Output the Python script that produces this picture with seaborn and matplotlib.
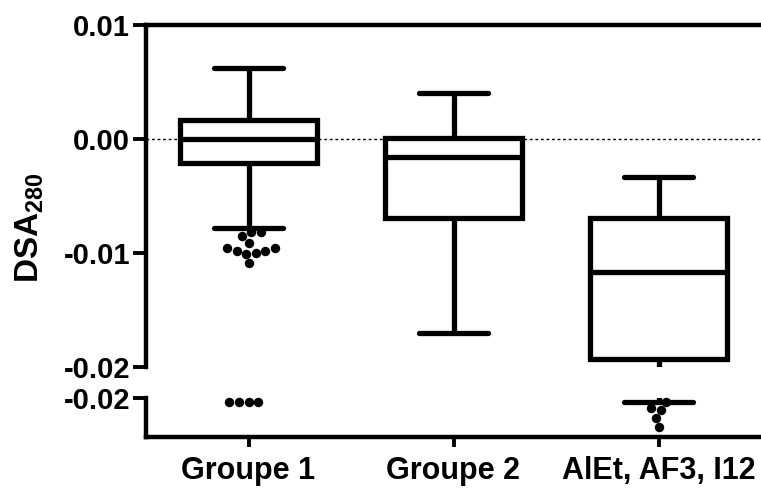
import pandas as pd
import matplotlib
matplotlib.use("Agg")
import matplotlib.pyplot as plt
import seaborn as sns

# Résumé des boîtes
groups = ["Groupe 1", "Groupe 2", "AlEt, AF3, I12"]
whisker_low = [-0.0078, -0.0170, -0.02435]
q1 = [-0.0021, -0.0069, -0.0193]
median = [0.0000, -0.0016, -0.0117]
q3 = [0.0017, 0.0001, -0.0069]
whisker_high = [0.0062, 0.0040, -0.0033]

# Valeurs extrêmes
outlier_group = ["Groupe 1"] * 15 + ["AlEt, AF3, I12"] * 5
outlier_values = [-0.0082, -0.0085, -0.0082, -0.0091, -0.0098, -0.0096,
                  -0.0101, -0.0098, -0.0096, -0.0100, -0.0109,
                  -0.02435, -0.02435, -0.02435, -0.02435,
                  -0.02435, -0.02488, -0.02505, -0.02575, -0.02654]

upper_ticks = [0.01, 0.00, -0.01, -0.02]
lower_ticks = [-0.024]
upper_range = (-0.02, 0.01)
lower_range = (-0.02742, -0.024)

sns.set_style("ticks", {"axes.edgecolor": "black", "xtick.color": "black",
                        "ytick.color": "black", "text.color": "black",
                        "axes.labelcolor": "black"})
plt.rcParams["font.family"] = ["Liberation Sans", "DejaVu Sans"]
plt.rcParams["font.weight"] = "bold"
plt.rcParams["axes.unicode_minus"] = False
plt.rcParams["mathtext.fontset"] = "custom"
plt.rcParams["mathtext.bf"] = "Liberation Sans:bold"
plt.rcParams["mathtext.rm"] = "Liberation Sans:bold"

box_df = pd.DataFrame({
    "group": [g for g in groups for _ in range(5)],
    "value": [v for vals in zip(whisker_low, q1, median, q3, whisker_high) for v in vals],
})
out_df = pd.DataFrame({"group": outlier_group, "value": outlier_values})

fig = plt.figure(figsize=(7.61, 4.9), dpi=100)
W, H = 761, 490
left = 146 / W
ax_top = fig.add_axes([left, 1 - 367 / H, 1.0 - left, (367 - 25) / H])
ax_bot = fig.add_axes([left, 1 - 437 / H, 1.0 - left, (437 - 398) / H])

lw = 3.8
for ax, yr in [(ax_top, upper_range), (ax_bot, lower_range)]:
    ax.axhline(0, color="black", lw=1, ls=(0, (2, 2)), zorder=0)
    sns.boxplot(data=box_df, x="group", y="value", order=groups, whis=(0, 100),
                width=0.67, color="white", linecolor="black", linewidth=lw,
                fliersize=0, ax=ax)
    sub = out_df[(out_df["value"] >= yr[0]) & (out_df["value"] <= yr[1])]
    sns.swarmplot(data=sub, x="group", y="value", order=groups, color="black",
                  size=6.8, ax=ax, clip_on=False, zorder=5)
    ax.set_ylim(yr)
    ax.set_xlim(-0.5, 2.5)
    ax.set_xlabel("")
    ax.set_ylabel("")
    ax.spines["right"].set_visible(False)
    for s in ax.spines.values():
        s.set_linewidth(3.2)
        s.set_color("black")
    ax.tick_params(axis="y", length=9.5, width=2.8, pad=2, labelsize=21,
                   colors="black")

ax_top.spines["bottom"].set_visible(False)
ax_top.tick_params(axis="x", bottom=False, labelbottom=False)
ax_top.set_yticks(upper_ticks)
ax_top.set_yticklabels([f"{t:.2f}" for t in upper_ticks])

ax_bot.spines["top"].set_visible(False)
ax_bot.set_yticks(lower_ticks)
ax_bot.set_yticklabels([f"{t:.2f}" for t in lower_ticks])
ax_bot.tick_params(axis="x", length=7.5, width=2.8, pad=6, labelsize=22,
                   colors="black")

fig.text(30 / W, 1 - 228 / H, r"DSA$_{\mathbf{280}}$", rotation=90,
         ha="center", va="center", fontsize=24, fontweight="bold", color="black")

fig.savefig("out.png", dpi=100)
